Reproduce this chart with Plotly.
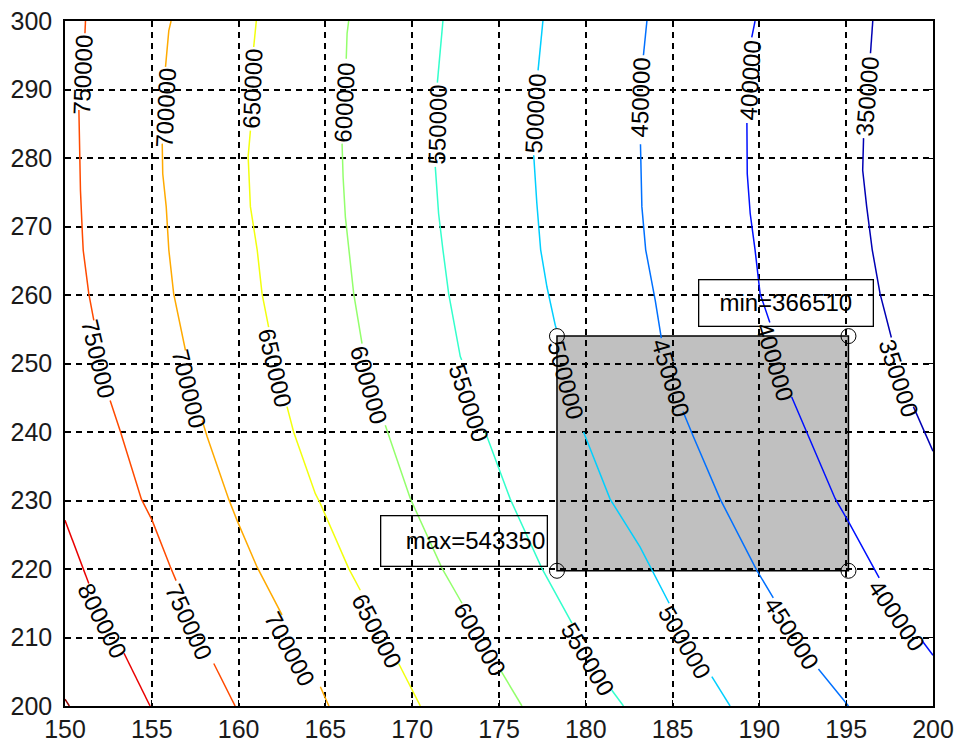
import plotly.graph_objects as go

# ---- contour levels and colours (jet colormap) ----
levels = [350000, 400000, 450000, 500000, 550000, 600000, 650000, 700000, 750000, 800000, 850000]
level_colors = ["#0000B4", "#0010FF", "#0070FF", "#00CFFF", "#33FFCC", "#93FF6C",
                "#F2FF0D", "#FFAA00", "#FF4A00", "#E90000", "#8F0000"]

# ---- contour line paths (None = gap under an inline label) ----
x350 = [196.53, 196.40, None, 196.00, 195.95, 196.18, 196.50, 196.95, 197.60, None, 198.87, 200.00]
y350 = [300.0, 295.3, None, 282.9, 278.2, 272.9, 266.6, 260.2, 253.8, None, 243.7, 237.2]

x400 = [189.75, 189.56, None, 189.28, 189.30, 189.47, 189.75, 190.04, 190.60, None, 191.86, 192.73, 194.36, 195.13, 196.66, 196.90, None, 199.35, 200.00]
y400 = [300.0, 297.6, None, 285.1, 277.7, 271.9, 266.6, 260.2, 256.0, None, 245.1, 240.0, 230.3, 226.9, 219.8, 218.7, None, 209.6, 207.4]

x450 = [183.52, 183.32, None, 183.15, 183.23, 183.45, 184.00, 184.35, None, 185.60, 186.20, 187.74, 189.85, 190.80, None, 193.40, 195.13]
y450 = [300.0, 295.0, None, 282.0, 272.9, 266.6, 259.2, 253.7, None, 243.0, 239.3, 230.2, 219.8, 215.8, None, 205.4, 200.0]

x500 = [177.53, 177.37, 177.25, None, 177.00, 177.18, 177.40, 177.76, 178.24, 178.30, None, 179.87, 181.40, 183.13, 184.80, None, 187.26, 188.31]
y500 = [300.0, 295.7, 292.8, None, 280.4, 273.4, 266.6, 261.2, 255.6, 255.1, None, 240.0, 230.2, 223.2, 215.0, None, 204.3, 200.0]

x550 = [171.77, 171.58, 171.45, None, 171.33, 171.52, 171.77, 172.10, 172.77, 172.85, None, 174.21, 175.65, 177.47, 179.20, None, 181.50, 182.17]
y550 = [300.0, 294.3, 291.0, None, 278.7, 271.9, 266.6, 260.2, 251.0, 250.5, None, 240.0, 230.2, 220.1, 212.1, None, 202.3, 200.0]

x600 = [166.34, 166.25, 166.20, None, 165.96, 166.02, 166.15, 166.34, 166.63, 167.11, None, 168.45, 169.89, 171.72, 172.87, None, 175.07, 176.32]
y600 = [300.0, 298.2, 294.5, None, 282.1, 277.2, 271.4, 266.6, 260.2, 252.9, None, 241.0, 230.3, 220.1, 215.0, None, 205.3, 200.0]

x650 = [161.02, 160.87, None, 160.68, 160.55, 160.68, 161.07, 161.35, 161.73, None, 162.79, 163.17, 164.42, 164.70, 166.34, 167.01, None, 169.22, 170.47]
y650 = [300.0, 296.2, None, 284.0, 280.2, 272.9, 266.6, 260.2, 255.3, None, 243.7, 240.0, 231.0, 229.6, 220.1, 216.9, None, 206.2, 200.0]

x700 = [156.11, 155.98, 155.79, None, 155.60, 155.63, 155.83, 155.98, 156.26, 156.94, None, 157.90, 158.19, 159.43, 159.91, 161.06, 162.50, None, 164.71, 165.20]
y700 = [300.0, 298.6, 293.3, None, 282.1, 277.7, 272.9, 266.6, 260.2, 251.9, None, 241.7, 239.3, 230.2, 227.1, 220.3, 213.3, None, 202.8, 200.0]

x750 = [151.18, 151.15, None, 150.80, 150.89, 151.00, 151.05, 151.37, 151.66, None, 152.60, 153.20, 154.40, 155.02, 156.07, 156.40, None, 158.57, 159.80]
y750 = [300.0, 298.2, None, 287.0, 275.3, 269.0, 266.5, 260.2, 256.3, None, 244.6, 240.0, 230.2, 227.1, 220.3, 218.3, None, 206.2, 200.0]

x800 = [150.00, 151.37, None, 153.40, 154.90]
y800 = [227.1, 217.9, None, 207.7, 200.0]

x850 = [150.00, 150.25]
y850 = [201.0, 200.0]

# ---- inline contour labels: text, centre (data) and angle (deg, clockwise) ----
label_text = ["750000", "700000", "650000", "600000", "550000", "500000", "450000", "400000", "350000",
              "750000", "700000", "650000", "600000", "550000", "500000", "450000", "400000", "350000",
              "800000", "750000", "700000", "650000", "600000", "550000", "500000", "450000", "400000"]
label_x = [151.01, 155.79, 160.79, 166.09, 171.44, 177.08, 183.13, 189.46, 196.20,
           151.93, 157.17, 162.12, 167.53, 173.29, 178.87, 184.92, 190.91, 198.05,
           152.16, 157.17, 162.98, 167.99, 173.92, 180.14, 185.72, 191.88, 197.92]
label_y = [292.08, 287.26, 290.18, 288.14, 284.93, 286.53, 288.87, 291.35, 289.01,
           250.78, 246.26, 249.32, 246.84, 244.21, 247.57, 247.86, 250.20, 247.86,
           212.55, 212.26, 208.32, 210.94, 209.77, 206.85, 209.33, 210.64, 213.27]
label_angle = [-88, -87.5, -87.7, -87.2, -88.6, -87, -88, -86.7, -85.3,
               77, 76.6, 77, 74, 71.8, 75.2, 73.5, 73.7, 72,
               63.2, 65.5, 62, 62.4, 60.1, 59.2, 59.8, 57.6, 55.7]

# ---- shaded region and its corner points ----
region_x = [178.34, 195.13]
region_y = [219.74, 254.0]
corner_x = [178.34, 195.13, 178.34, 195.13]
corner_y = [254.0, 254.0, 219.74, 219.74]

# ---- boxed texts ----
min_text, min_pos = "min=366510", (191.51, 258.88)
max_text, max_pos = "max=543350", (172.97, 224.08)

x_ticks = [150, 155, 160, 165, 170, 175, 180, 185, 190, 195, 200]
y_ticks = [200, 210, 220, 230, 240, 250, 260, 270, 280, 290, 300]

FONT = "Arial, Liberation Sans, sans-serif"

fig = go.Figure()

paths = [(x350, y350), (x400, y400), (x450, y450), (x500, y500), (x550, y550), (x600, y600),
         (x650, y650), (x700, y700), (x750, y750), (x800, y800), (x850, y850)]
for (px, py), lev, col in zip(paths, levels, level_colors):
    fig.add_trace(go.Scatter(x=px, y=py, mode="lines", line=dict(color=col, width=1.5),
                             connectgaps=False, hoverinfo="skip", showlegend=False, name=str(lev)))

fig.add_trace(go.Scatter(x=corner_x, y=corner_y, mode="markers",
                         marker=dict(symbol="circle-open", size=15, color="black", line=dict(width=1)),
                         hoverinfo="skip", showlegend=False))

fig.add_shape(type="rect", x0=region_x[0], x1=region_x[1], y0=region_y[0], y1=region_y[1],
              xref="x", yref="y", fillcolor="#C0C0C0", line=dict(color="black", width=1.5),
              layer="below")

for t, lx, ly, ang in zip(label_text, label_x, label_y, label_angle):
    fig.add_annotation(x=lx, y=ly, text=t, textangle=ang, showarrow=False,
                       xanchor="center", yanchor="middle",
                       font=dict(family=FONT, size=24, color="black"))

fig.add_annotation(x=min_pos[0], y=min_pos[1], text=min_text, showarrow=False,
                   xanchor="center", yanchor="middle", width=171, height=43, align="center",
                   bordercolor="black", borderwidth=1.3, borderpad=1,
                   font=dict(family=FONT, size=24, color="black"))
fig.add_annotation(x=max_pos[0], y=max_pos[1], text=max_text, showarrow=False,
                   xanchor="center", yanchor="middle", width=163, height=47, align="right",
                   bordercolor="black", borderwidth=1.3, borderpad=1,
                   font=dict(family=FONT, size=24, color="black"))

axis_common = dict(showgrid=True, gridcolor="black", griddash="6px,5px", gridwidth=1.5,
                   ticks="inside", ticklen=6, tickwidth=1.2, tickcolor="black",
                   showline=True, linecolor="black", linewidth=1.5, mirror="ticks",
                   zeroline=False, automargin=False,
                   tickfont=dict(family=FONT, size=25, color="#1a1a1a"))

fig.update_layout(
    width=958, height=742,
    margin=dict(l=65, r=25, t=21, b=36),
    paper_bgcolor="white", plot_bgcolor="white",
    xaxis=dict(range=[150, 200], tickvals=x_ticks, **axis_common),
    yaxis=dict(range=[200, 300], tickvals=y_ticks, ticklabelstandoff=6, **axis_common),
    showlegend=False,
)

fig.write_html("out.html")
